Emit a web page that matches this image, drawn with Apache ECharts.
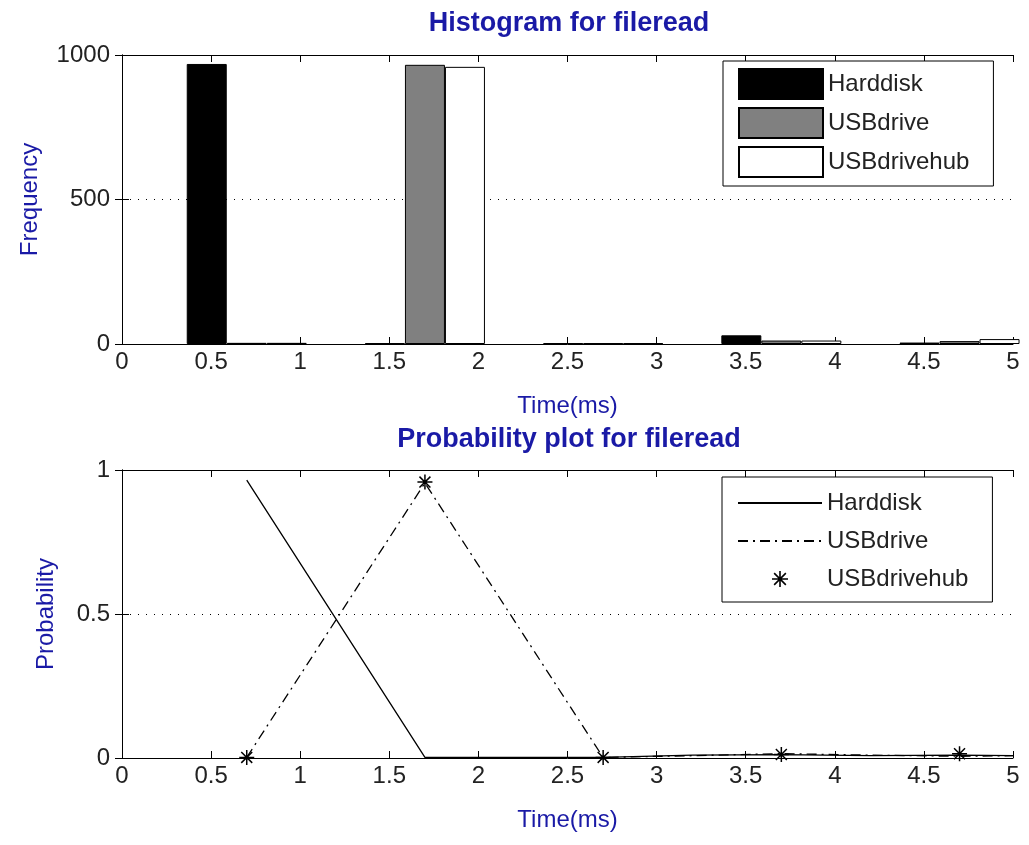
<!DOCTYPE html>
<html>
<head>
<meta charset="utf-8">
<script src="https://cdn.jsdelivr.net/npm/echarts@6/dist/echarts.min.js"></script>
<style>
  html, body { margin: 0; padding: 0; background: #fff; }
  #chart { width: 1029px; height: 845px; }
</style>
</head>
<body>
<div id="chart"></div>
<script>
// histogram (top)
const histBins = [0.7, 1.7, 2.7, 3.7, 4.7];
const histHarddisk = [969, 3, 3, 30, 5];
const histUSBdrive = [4, 966, 3, 12, 10];
const histUSBdrivehub = [4, 959, 3, 12, 17];

// probability plot (bottom)
const probTime = [0.7, 1.7, 2.7, 3.2, 3.7, 4.2, 4.7, 5.0];
const probHarddisk = [0.965, 0.002, 0.002, 0.010, 0.012, 0.008, 0.010, 0.008];
const probUSBdrive = [0.002, 0.955, 0.002, 0.008, 0.015, 0.010, 0.006, 0.008];
const hubTime = [0.7, 1.7, 2.7, 3.7, 4.7];
const probUSBdrivehub = [0.002, 0.958, 0.002, 0.012, 0.015];

const seriesNames = ['Harddisk', 'USBdrive', 'USBdrivehub'];

const FONT = 'Liberation Sans, Arial, sans-serif';
const BLUE = '#1a1aa6';
const TXT = '#222';

// asterisk marker like matlab '*'
const star = 'path://M9 0L11 0L11 20L9 20Z M0 9L20 9L20 11L0 11Z M2 3.4L3.4 2L18 16.6L16.6 18Z M16.6 2L18 3.4L3.4 18L2 16.6Z';

const pairs = (xs, ys) => xs.map((x, i) => [x, ys[i]]);

let myChart = echarts.init(document.getElementById('chart'));

const xMain = (gridIndex, name) => ({
  type: 'value', gridIndex: gridIndex, min: 0, max: 5, interval: 0.5,
  name: name, nameLocation: 'middle', nameGap: 50,
  nameTextStyle: { color: BLUE, fontSize: 24, fontFamily: FONT },
  axisLine: { onZero: false, lineStyle: { color: '#000', width: 1 } },
  axisTick: { inside: true, length: 7, lineStyle: { color: '#000' } },
  axisLabel: { color: TXT, fontSize: 24, fontFamily: FONT, margin: 6 },
  splitLine: { show: false }
});
const xTop = (gridIndex) => ({
  type: 'value', gridIndex: gridIndex, position: 'top', min: 0, max: 5, interval: 0.5,
  axisLine: { onZero: false, lineStyle: { color: '#000', width: 1 } },
  axisTick: { inside: true, length: 7, lineStyle: { color: '#000' } },
  axisLabel: { show: false },
  splitLine: { show: false }
});
const yMain = (gridIndex, max, interval, name, gap) => ({
  type: 'value', gridIndex: gridIndex, min: 0, max: max, interval: interval,
  name: name, nameLocation: 'middle', nameGap: gap,
  nameTextStyle: { color: BLUE, fontSize: 24, fontFamily: FONT },
  axisLine: { show: true, lineStyle: { color: '#000', width: 1 } },
  axisTick: { show: true, inside: true, length: 7, lineStyle: { color: '#000' } },
  axisLabel: { color: TXT, fontSize: 24, fontFamily: FONT, margin: 12, formatter: v => String(v) },
  splitLine: { show: true, lineStyle: { color: '#000', type: [1, 7], width: 1 } }
});
const yRight = (gridIndex, max, interval) => ({
  type: 'value', gridIndex: gridIndex, position: 'right', min: 0, max: max, interval: interval,
  axisLine: { show: true, lineStyle: { color: '#000', width: 1 } },
  axisTick: { show: true, inside: true, length: 7, lineStyle: { color: '#000' } },
  axisLabel: { show: false },
  splitLine: { show: false }
});

const barColors = ['#000000', '#808080', '#ffffff'];
const histData = [histHarddisk, histUSBdrive, histUSBdrivehub];

let option = {
  animation: false,
  backgroundColor: '#fff',
  title: [
    {
      text: 'Histogram for fileread', left: 564, top: 5, textAlign: 'center',
      textStyle: { color: BLUE, fontSize: 27, fontWeight: 'bold', fontFamily: FONT }
    },
    {
      text: 'Probability plot for fileread', left: 564, top: 421, textAlign: 'center',
      textStyle: { color: BLUE, fontSize: 27, fontWeight: 'bold', fontFamily: FONT }
    }
  ],
  grid: [
    { left: 122, right: 16, top: 55, height: 289 },
    { left: 122, right: 16, top: 470, height: 288 }
  ],
  xAxis: [xMain(0, 'Time(ms)'), xTop(0), xMain(1, 'Time(ms)'), xTop(1)],
  yAxis: [
    yMain(0, 1000, 500, 'Frequency', 80),
    yRight(0, 1000, 500),
    yMain(1, 1, 0.5, 'Probability', 64),
    yRight(1, 1, 0.5)
  ],
  legend: [
    {
      data: seriesNames.map(n => ({ name: n, icon: 'rect' })),
      left: 723, top: 61, orient: 'vertical', align: 'left',
      itemWidth: 84, itemHeight: 30, itemGap: 7,
      padding: [7, 24, 8, 15],
      backgroundColor: '#fff', borderColor: '#000', borderWidth: 1, borderRadius: 0,
      textStyle: { color: TXT, fontSize: 24, fontFamily: FONT, lineHeight: 30 },
      selectedMode: false
    },
    {
      data: [
        { name: 'p_Harddisk', itemStyle: { opacity: 0 } },
        { name: 'p_USBdrive', itemStyle: { opacity: 0 } },
        { name: 'p_USBdrivehub', icon: star }
      ],
      formatter: n => n.slice(2),
      left: 722, top: 477, orient: 'vertical', align: 'left',
      itemWidth: 84, itemHeight: 16, itemGap: 8,
      padding: [11, 24, 8, 15],
      backgroundColor: '#fff', borderColor: '#000', borderWidth: 1, borderRadius: 0,
      textStyle: { color: TXT, fontSize: 24, fontFamily: FONT, lineHeight: 30 },
      selectedMode: false
    }
  ],
  series: [
    ...seriesNames.map((n, i) => ({
      name: n, type: 'bar', xAxisIndex: 0, yAxisIndex: 0,
      data: pairs(histBins, histData[i]),
      barWidth: 40, barGap: '0%', clip: true,
      itemStyle: { color: barColors[i], borderColor: '#000', borderWidth: 1 }
    })),
    {
      name: 'p_Harddisk', type: 'line', xAxisIndex: 2, yAxisIndex: 2,
      data: pairs(probTime, probHarddisk),
      symbol: 'none', z: 3,
      lineStyle: { color: '#000', width: 1.3, type: 'solid' },
      itemStyle: { color: '#000' }
    },
    {
      name: 'p_USBdrive', type: 'line', xAxisIndex: 2, yAxisIndex: 2,
      data: pairs(probTime, probUSBdrive),
      symbol: 'none', z: 3,
      lineStyle: { color: '#000', width: 1.3, type: [10, 5, 2, 5] },
      itemStyle: { color: '#000' }
    },
    {
      name: 'p_USBdrivehub', type: 'line', xAxisIndex: 2, yAxisIndex: 2,
      data: pairs(hubTime, probUSBdrivehub),
      symbol: star, symbolSize: 15, z: 4,
      lineStyle: { width: 0, opacity: 0 },
      itemStyle: { color: '#000' }
    }
  ]
};

option && myChart.setOption(option);
</script>
</body>
</html>
